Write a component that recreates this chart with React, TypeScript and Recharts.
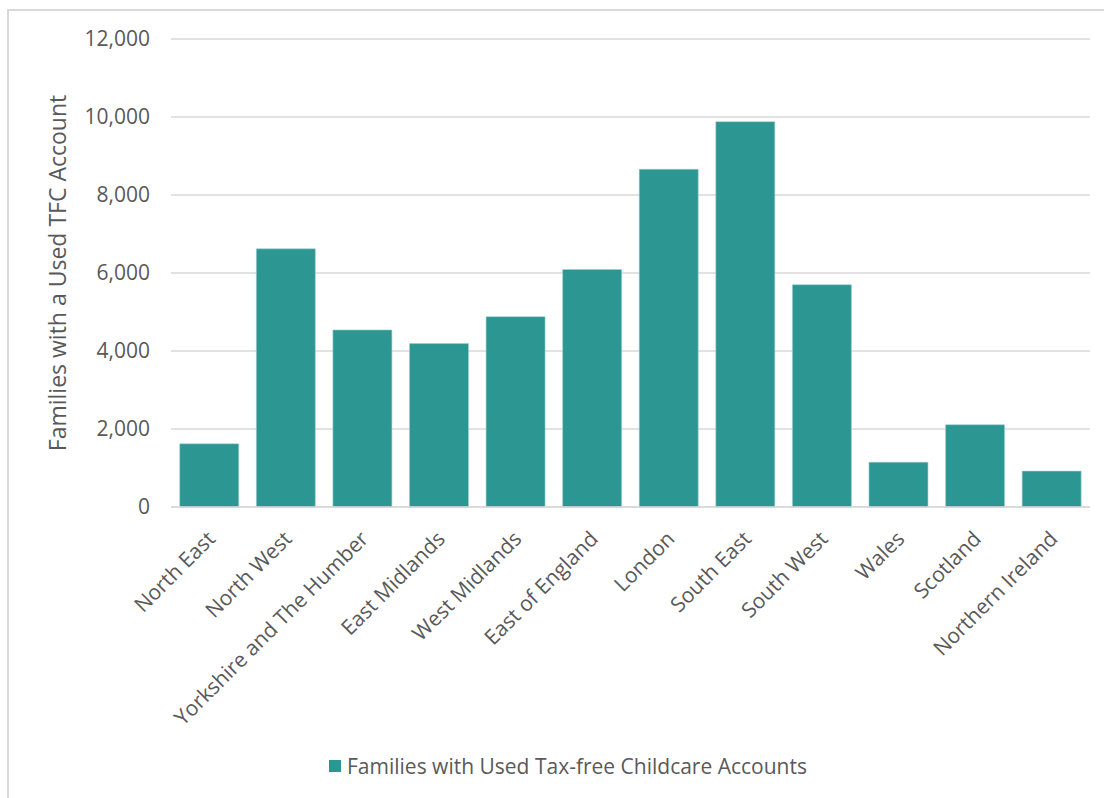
import { BarChart, Bar, XAxis, YAxis, CartesianGrid, Legend } from "recharts";

const regions = [
  "North East", "North West", "Yorkshire and The Humber", "East Midlands",
  "West Midlands", "East of England", "London", "South East",
  "South West", "Wales", "Scotland", "Northern Ireland",
];
const families = [1620, 6620, 4540, 4190, 4880, 6090, 8660, 9880, 5700, 1150, 2110, 920];
const yTicks = [0, 2000, 4000, 6000, 8000, 10000, 12000];

const seriesName = "Families with Used Tax-free Childcare Accounts";
const data = regions.map((region, i) => ({ region, value: families[i] }));

const TEAL = "#2c9693";
const GREY = "#595959";
const FONT = "'Open Sans', sans-serif";

const RegionTick = (props: any) => {
  const { x, y, payload } = props;
  const ax = x + 2;
  const ay = y + 20;
  return (
    <text
      x={ax}
      y={ay}
      dy="0.35em"
      textAnchor="end"
      fill={GREY}
      fontSize={21}
      fontFamily={FONT}
      transform={`rotate(-45, ${ax}, ${ay})`}
    >
      {payload.value}
    </text>
  );
};

const LegendBox = () => (
  <div style={{ display: "flex", alignItems: "center", fontFamily: FONT, fontSize: 21, color: GREY }}>
    <span style={{ width: 12, height: 12, background: TEAL, display: "inline-block", marginRight: 6 }} />
    <span>{seriesName}</span>
  </div>
);

export default function App() {
  return (
    <div style={{ position: "absolute", left: 0, top: 0, width: 1104, height: 798, overflow: "hidden", background: "#fff" }}>
      <div
        style={{
          position: "absolute", left: 7, top: 9, width: 1200, height: 900,
          border: "2px solid #d9d9d9",
        }}
      />
      <div style={{ position: "absolute", left: 0, top: 0 }}>
        <BarChart
          width={1104}
          height={798}
          data={data}
          margin={{ top: 39, right: 14, left: 61, bottom: 31 }}
          barCategoryGap="11.4%"
        >
          <CartesianGrid vertical={false} stroke="#d9d9d9" strokeWidth={1.5} />
          <XAxis
            dataKey="region"
            interval={0}
            height={230}
            tickLine={false}
            axisLine={{ stroke: "#d9d9d9", strokeWidth: 1.5 }}
            tick={<RegionTick />}
          />
          <YAxis
            width={110}
            domain={[0, 12000]}
            ticks={yTicks}
            tickFormatter={(v: number) => v.toLocaleString("en-GB")}
            axisLine={false}
            tickLine={false}
            tickSize={0}
            tickMargin={21}
            tick={{ fill: GREY, fontSize: 21, fontFamily: FONT }}
            label={{
              value: "Families with a Used TFC Account",
              content: (p: any) => {
                const vb = p.viewBox || {};
                const cx = 58;
                const cy = vb.y + vb.height / 2;
                return (
                  <text
                    x={cx}
                    y={cy}
                    dy="0.35em"
                    textAnchor="middle"
                    fill={GREY}
                    fontSize={23}
                    fontFamily={FONT}
                    transform={`rotate(-90, ${cx}, ${cy})`}
                  >
                    Families with a Used TFC Account
                  </text>
                );
              },
            }}
          />
          <Legend
            content={<LegendBox />}
            wrapperStyle={{ left: 329, top: 752, width: 640, height: 30 }}
          />
          <Bar dataKey="value" name={seriesName} fill={TEAL} stroke="#9fd0ce" strokeWidth={0.6} isAnimationActive={false} />
        </BarChart>
      </div>
    </div>
  );
}
